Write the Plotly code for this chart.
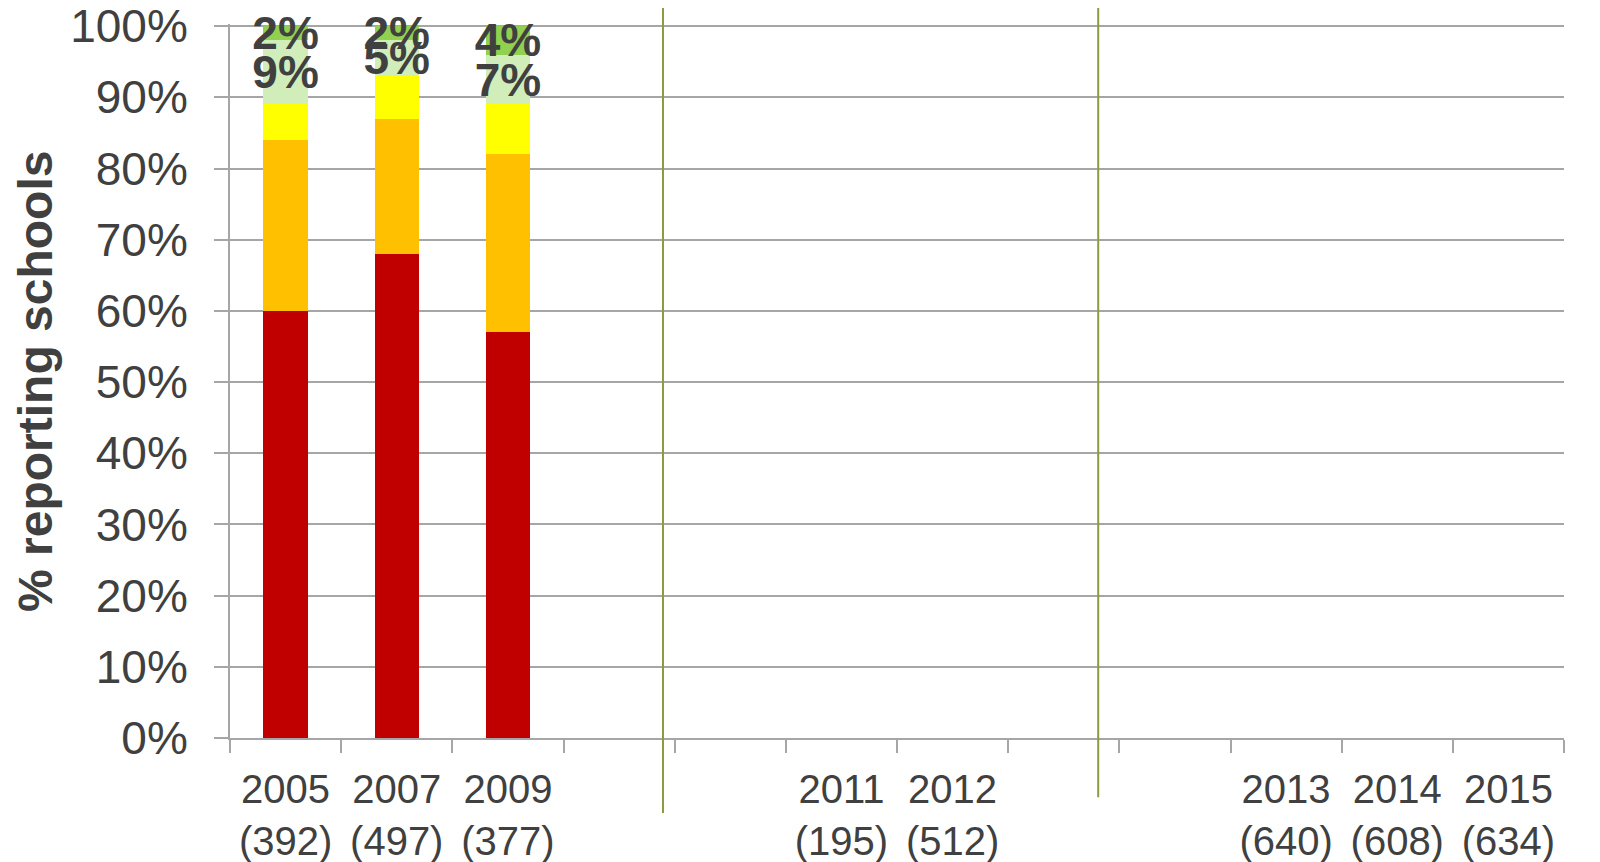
import plotly.graph_objects as go

years = ["2005", "2007", "2009", "", "", "2011", "2012", "", "", "2013", "2014", "2015"]
counts = ["392", "497", "377", "", "", "195", "512", "", "", "640", "608", "634"]

red_vals = [60, 68, 57]
orange_vals = [24, 19, 25]
yellow_vals = [5, 6, 7]
lightgreen_vals = [9, 5, 7]
darkgreen_vals = [2, 2, 4]

y_ticks = [0, 10, 20, 30, 40, 50, 60, 70, 80, 90, 100]

# build unique category labels (blank slots get distinct whitespace)
categories = []
blank = 0
for y, c in zip(years, counts):
    if y:
        categories.append(f"{y}<br>({c})")
    else:
        blank += 1
        categories.append(" " * blank)

def pad(vals):
    return list(vals) + [None] * (len(categories) - len(vals))

series = [
    ("red", red_vals, "#C00000", False),
    ("orange", orange_vals, "#FFC000", False),
    ("yellow", yellow_vals, "#FFFF00", False),
    ("lightgreen", lightgreen_vals, "#D0EDBA", True),
    ("darkgreen", darkgreen_vals, "#92D050", True),
]

fig = go.Figure()
for name, vals, color, labelled in series:
    kw = {}
    if labelled:
        kw = dict(
            text=[f"{v}%" for v in vals] + [""] * (len(categories) - len(vals)),
            textposition="inside",
            insidetextanchor="middle",
            textangle=0,
            constraintext="none",
            cliponaxis=False,
            textfont=dict(family="Liberation Sans, Arial, sans-serif", size=46,
                          color="#404040", weight="bold"),
        )
    fig.add_trace(go.Bar(x=categories, y=pad(vals), name=name,
                         marker=dict(color=color, line=dict(width=0)),
                         hoverinfo="skip", **kw))

grid = "#A6A6A6"
olive = "#8C9A40"

fig.update_layout(
    width=1592, height=854,
    barmode="stack", bargap=0.6,
    showlegend=False,
    plot_bgcolor="white", paper_bgcolor="white",
    margin=dict(l=222, r=36, t=16, b=124, autoexpand=False),
    font=dict(family="Liberation Sans, Arial, sans-serif", color="#404040"),
    xaxis=dict(
        type="category", automargin=False,
        categoryorder="array", categoryarray=categories,
        range=[-0.5, len(categories) - 0.5],
        showline=True, linecolor=grid, linewidth=2,
        ticks="outside", tickson="boundaries", ticklen=13, tickcolor=grid, tickwidth=2,
        ticklabelstandoff=15, ticklabeloverflow="allow",
        tickfont=dict(size=40, color="#404040"),
        showgrid=False,
    ),
    yaxis=dict(
        range=[0, 100.3], tickmode="array", tickvals=y_ticks,
        ticktext=[f"{v}%" for v in y_ticks], automargin=False,
        ticklabeloverflow="allow",
        showline=True, linecolor=grid, linewidth=2,
        ticks="outside", ticklen=14, tickcolor=grid, tickwidth=2,
        ticklabelstandoff=17,
        tickfont=dict(size=46, color="#404040"),
        showgrid=True, gridcolor=grid, gridwidth=2,
        zeroline=False,
    ),
    annotations=[
        dict(text="% reporting schools", xref="paper", yref="paper",
             x=-0.1462, y=0.5, textangle=-90, showarrow=False,
             xanchor="center", yanchor="middle",
             font=dict(family="Liberation Sans Narrow, Arial Narrow, Liberation Sans, sans-serif",
                       size=48, color="#404040", weight="bold")),
    ],
    shapes=[
        dict(type="line", xref="x", yref="paper", x0=3.395, x1=3.395, y0=-0.105, y1=1.04,
             line=dict(color=olive, width=2)),
        dict(type="line", xref="x", yref="paper", x0=7.31, x1=7.31, y0=-0.083, y1=1.04,
             line=dict(color=olive, width=2)),
    ],
)

fig.write_html("out.html")
